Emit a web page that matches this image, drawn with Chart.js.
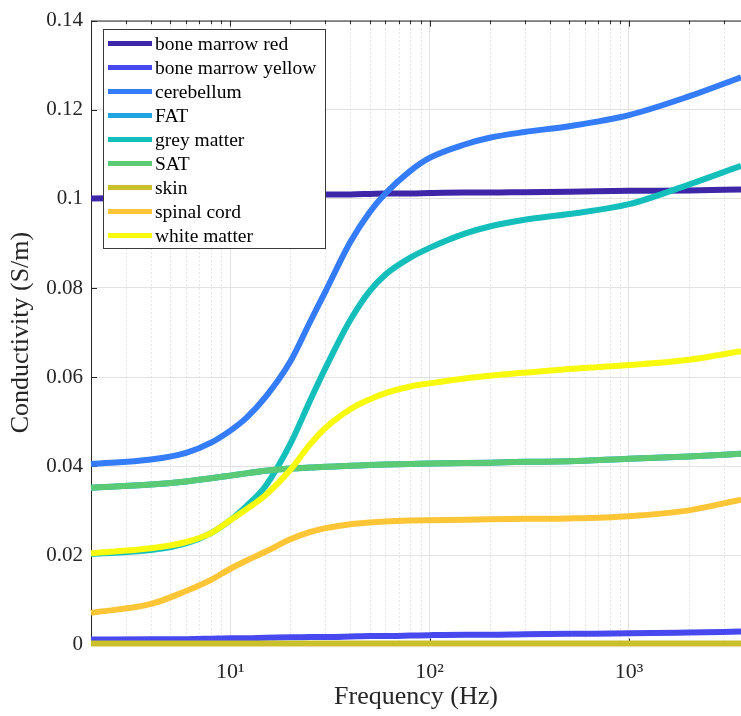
<!DOCTYPE html>
<html>
<head>
<meta charset="utf-8">
<script src="https://cdn.jsdelivr.net/npm/chart.js@4/dist/chart.umd.min.js"></script>
<style>
  html, body { margin: 0; padding: 0; background: #fff; }
  #wrap { width: 741px; height: 716px; }
</style>
</head>
<body>
<div id="wrap"><canvas id="conductivity-chart" width="741" height="716"></canvas></div>
<script>
// frequency samples (Hz)
const freqs = [2, 4, 6, 8, 10, 12, 15, 20, 25, 30, 40, 50, 60, 80, 100, 150, 200, 300, 500, 1000, 2000, 3650];

// conductivity (S/m) per tissue
const boneMarrowRed    = [0.1001, 0.1002, 0.1003, 0.1004, 0.1005, 0.1006, 0.1007, 0.1008, 0.1009, 0.1010, 0.1010, 0.1011, 0.1012, 0.1012, 0.1013, 0.1014, 0.1014, 0.1015, 0.1016, 0.1018, 0.1019, 0.1021];
const boneMarrowYellow = [0.0011, 0.0012, 0.0012, 0.0013, 0.0014, 0.0014, 0.0015, 0.0016, 0.0017, 0.0017, 0.0018, 0.0019, 0.0019, 0.0020, 0.0021, 0.0022, 0.0022, 0.0023, 0.0024, 0.0025, 0.0027, 0.0029];
const cerebellum       = [0.0405, 0.0415, 0.0430, 0.0453, 0.0480, 0.0508, 0.0555, 0.0635, 0.0722, 0.0792, 0.0903, 0.0970, 0.1012, 0.1063, 0.1092, 0.1122, 0.1137, 0.1150, 0.1163, 0.1188, 0.1230, 0.1273];
const fat              = [0.0352, 0.0359, 0.0366, 0.0373, 0.0379, 0.0384, 0.0390, 0.0395, 0.0397, 0.0399, 0.0401, 0.0403, 0.0404, 0.0405, 0.0406, 0.0407, 0.0408, 0.0410, 0.0411, 0.0417, 0.0422, 0.0428];
const greyMatter       = [0.0203, 0.0212, 0.0227, 0.0250, 0.0279, 0.0310, 0.0355, 0.0450, 0.0545, 0.0620, 0.0728, 0.0793, 0.0830, 0.0868, 0.0890, 0.0922, 0.0938, 0.0953, 0.0966, 0.0988, 0.1032, 0.1074];
const sat              = [0.0352, 0.0359, 0.0366, 0.0373, 0.0379, 0.0384, 0.0390, 0.0395, 0.0397, 0.0399, 0.0401, 0.0403, 0.0404, 0.0405, 0.0406, 0.0407, 0.0408, 0.0410, 0.0411, 0.0417, 0.0422, 0.0428];
const skin             = [0.0002, 0.0002, 0.0002, 0.0002, 0.0002, 0.0002, 0.0002, 0.0002, 0.0002, 0.0002, 0.0002, 0.0002, 0.0002, 0.0002, 0.0002, 0.0002, 0.0002, 0.0002, 0.0002, 0.0002, 0.0002, 0.0002];
const spinalCord       = [0.0071, 0.0091, 0.0120, 0.0145, 0.0170, 0.0188, 0.0208, 0.0236, 0.0252, 0.0261, 0.0270, 0.0274, 0.0276, 0.0278, 0.0279, 0.0280, 0.0281, 0.0282, 0.0283, 0.0288, 0.0301, 0.0325];
const whiteMatter      = [0.0205, 0.0216, 0.0230, 0.0250, 0.0279, 0.0303, 0.0335, 0.0392, 0.0448, 0.0486, 0.0528, 0.0550, 0.0564, 0.0579, 0.0586, 0.0597, 0.0603, 0.0610, 0.0618, 0.0627, 0.0639, 0.0658];

const seriesNames = ['bone marrow red', 'bone marrow yellow', 'cerebellum', 'FAT', 'grey matter', 'SAT', 'skin', 'spinal cord', 'white matter'];
const seriesValues = [boneMarrowRed, boneMarrowYellow, cerebellum, fat, greyMatter, sat, skin, spinalCord, whiteMatter];
const seriesColors = ['#3e26a8', '#4748ee', '#357cfa', '#20a4e4', '#14bfbb', '#5bca74', '#c9c02b', '#fec636', '#f8fa0d'];

const xMajorTicks = [10, 100, 1000];
const xMajorLabels = ['10\u00b9', '10\u00b2', '10\u00b3'];
const xMinorTicks = [2, 3, 4, 5, 6, 7, 8, 9, 20, 30, 40, 50, 60, 70, 80, 90, 200, 300, 400, 500, 600, 700, 800, 900, 2000, 3000];
const yTicks = [0, 0.02, 0.04, 0.06, 0.08, 0.1, 0.12, 0.14];

const axisColor = '#262626';
const serif = "'Liberation Serif', 'DejaVu Serif', serif";

Chart.defaults.font.family = serif;
Chart.defaults.color = axisColor;

// ------------------------------------------------------
// @ MATLAB style frame: minor grid, box, inward ticks, legend
// ------------------------------------------------------
const matlabFrame = {
    id: 'matlabFrame',
    beforeDatasetsDraw(chart) {
        const { ctx, chartArea: a, scales: { x, y } } = chart;
        ctx.save();

        // dotted minor grid
        ctx.strokeStyle = '#cfcfcf';
        ctx.lineWidth = 1;
        ctx.setLineDash([1, 3]);
        xMinorTicks.forEach(v => {
            const px = Math.round(x.getPixelForValue(v)) + 0.5;
            ctx.beginPath();
            ctx.moveTo(px, a.top);
            ctx.lineTo(px, a.bottom);
            ctx.stroke();
        });
        ctx.setLineDash([]);

        // box
        ctx.strokeStyle = axisColor;
        ctx.lineWidth = 1;
        ctx.beginPath();
        ctx.moveTo(a.left + 0.5, a.bottom);
        ctx.lineTo(a.left + 0.5, a.top + 0.5);
        ctx.lineTo(a.right + 1, a.top + 0.5);
        ctx.moveTo(a.left, a.bottom - 0.5);
        ctx.lineTo(a.right + 1, a.bottom - 0.5);
        ctx.stroke();

        // inward ticks
        ctx.beginPath();
        xMajorTicks.forEach(v => {
            const px = Math.round(x.getPixelForValue(v)) + 0.5;
            ctx.moveTo(px, a.top); ctx.lineTo(px, a.top + 6);
            ctx.moveTo(px, a.bottom); ctx.lineTo(px, a.bottom - 6);
        });
        xMinorTicks.forEach(v => {
            const px = Math.round(x.getPixelForValue(v)) + 0.5;
            ctx.moveTo(px, a.top); ctx.lineTo(px, a.top + 3.5);
            ctx.moveTo(px, a.bottom); ctx.lineTo(px, a.bottom - 3.5);
        });
        yTicks.forEach(v => {
            const py = Math.round(y.getPixelForValue(v)) + 0.5;
            ctx.moveTo(a.left, py); ctx.lineTo(a.left + 6, py);
        });
        ctx.stroke();
        ctx.restore();
    },
    afterDatasetsDraw(chart) {
        const { ctx } = chart;
        const box = { left: 103.5, top: 29.5, width: 222, height: 219 };
        ctx.save();
        ctx.fillStyle = '#ffffff';
        ctx.fillRect(box.left, box.top, box.width, box.height);
        ctx.strokeStyle = '#3a3a3a';
        ctx.lineWidth = 1;
        ctx.strokeRect(box.left, box.top, box.width, box.height);

        ctx.font = '19.5px ' + serif;
        ctx.textBaseline = 'middle';
        ctx.fillStyle = '#000000';
        chart.data.datasets.forEach((ds, i) => {
            const cy = 43.5 + i * 24;
            ctx.strokeStyle = ds.borderColor;
            ctx.lineWidth = 5;
            ctx.beginPath();
            ctx.moveTo(108, cy);
            ctx.lineTo(152, cy);
            ctx.stroke();
            ctx.fillText(ds.label, 155, cy + 1);
        });
        ctx.restore();
    }
};

let chartBox = document.getElementById('conductivity-chart');

new Chart(chartBox.getContext('2d'), {
    type: 'line',
    data: {
        labels: freqs,
        datasets: seriesNames.map((name, i) => ({
            label: name,
            data: seriesValues[i],
            borderColor: seriesColors[i],
            backgroundColor: seriesColors[i],
            borderWidth: 6,
            pointRadius: 0,
            cubicInterpolationMode: 'monotone',
            clip: false,
            order: seriesNames.length - i
        }))
    },
    options: {
        responsive: false,
        animation: false,
        layout: {
            padding: { left: 0, top: 17, right: 0, bottom: 0 }
        },
        plugins: {
            legend: { display: false },
            tooltip: { enabled: false }
        },
        scales: {
            x: {
                type: 'logarithmic',
                min: 2,
                max: 3650,
                afterBuildTicks: s => { s.ticks = xMajorTicks.map(v => ({ value: v })); },
                afterFit: s => { s.height = 71.5; },
                border: { display: false },
                grid: { color: '#e2e2e2', lineWidth: 1, drawTicks: false },
                ticks: {
                    autoSkip: false,
                    maxRotation: 0,
                    padding: 15,
                    font: { size: 22 },
                    color: axisColor,
                    callback: v => xMajorLabels[xMajorTicks.indexOf(v)]
                },
                title: {
                    display: true,
                    text: 'Frequency (Hz)',
                    font: { size: 26 },
                    color: axisColor,
                    padding: 3
                }
            },
            y: {
                min: 0,
                max: 0.14,
                afterBuildTicks: s => { s.ticks = yTicks.map(v => ({ value: v })); },
                afterFit: s => { s.width = 91; },
                border: { display: false },
                grid: { color: '#e2e2e2', lineWidth: 1, drawTicks: false },
                ticks: {
                    padding: 8,
                    font: { size: 21 },
                    color: axisColor,
                    callback: v => String(Number(v.toFixed(2)))
                },
                title: {
                    display: true,
                    text: 'Conductivity (S/m)',
                    font: { size: 26 },
                    color: axisColor,
                    padding: 6
                }
            }
        }
    },
    plugins: [matlabFrame]
});
</script>
</body>
</html>
